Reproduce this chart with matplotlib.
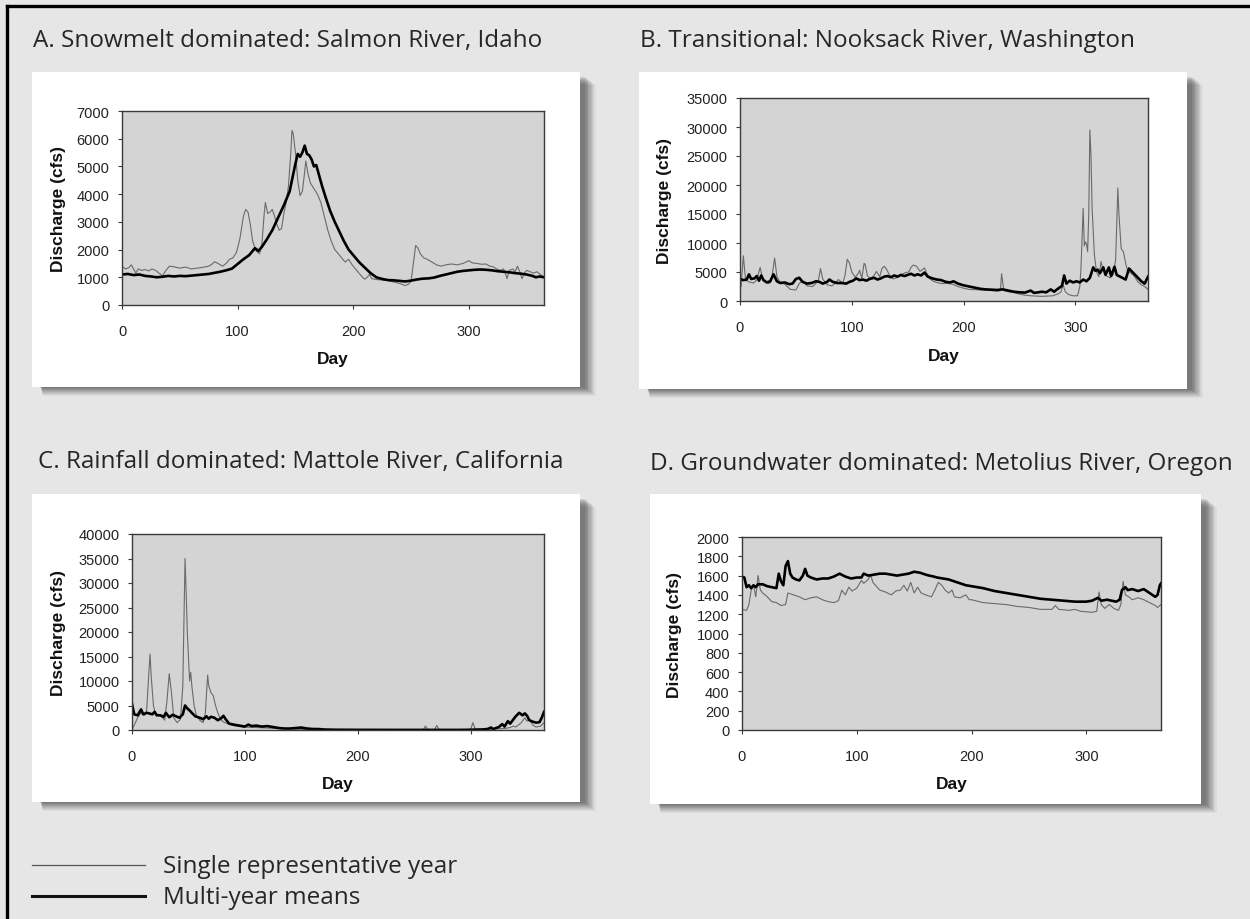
import numpy as np
import matplotlib
matplotlib.use("Agg")
import matplotlib.pyplot as plt
from matplotlib.patches import Rectangle
from matplotlib.lines import Line2D

plt.rcParams['font.family'] = ['Liberation Sans', 'DejaVu Sans']

W, H = 1250, 920

# ---- data: (day, discharge cfs) ----
# A. Salmon River
a_single_day = [0, 3, 6, 8, 10, 12, 14, 17, 20, 23, 26, 29, 32, 35, 38, 41, 45, 50, 55, 60, 65, 70, 75, 78, 80, 83,
                87, 90, 93, 96, 99, 102, 105, 107, 109, 111, 113, 116, 119, 121, 123, 124, 126, 128, 130, 132, 134,
                136, 138, 140, 142, 144, 146, 147, 148, 150, 152, 154, 156, 158, 159, 161, 163, 166, 169, 172, 175,
                178, 181, 184, 187, 190, 193, 196, 199, 202, 205, 208, 210, 212, 214, 216, 220, 225, 230, 235, 240,
                245, 248, 250, 252, 254, 256, 258, 261, 264, 268, 272, 276, 280, 285, 290, 295, 300, 303, 307, 311,
                315, 318, 321, 324, 327, 330, 332, 333, 335, 338, 340, 342, 344, 346, 348, 350, 353, 356, 359, 362, 365]
a_single_q = [1400, 1300, 1350, 1450, 1300, 1150, 1300, 1250, 1280, 1230, 1300, 1250, 1150, 1050, 1250, 1400, 1380,
              1330, 1370, 1300, 1330, 1360, 1400, 1480, 1560, 1500, 1400, 1500, 1650, 1700, 1900, 2400, 3200, 3450,
              3350, 2900, 2300, 1950, 1850, 2200, 3300, 3700, 3300, 3350, 3450, 3200, 2900, 2700, 2750, 3300, 3700,
              4300, 5500, 6300, 6200, 5500, 4500, 3950, 4100, 4800, 5200, 4700, 4400, 4200, 4000, 3700, 3200, 2700,
              2300, 2000, 1850, 1700, 1550, 1650, 1450, 1300, 1150, 1000, 930, 1000, 1100, 950, 920, 900, 880, 830,
              780, 700, 760, 850, 1500, 2150, 2050, 1850, 1700, 1650, 1550, 1450, 1400, 1450, 1480, 1450, 1500, 1600,
              1520, 1500, 1470, 1480, 1400, 1380, 1300, 1250, 1300, 1100, 950, 1250, 1300, 1200, 1400, 1200, 950,
              1150, 1250, 1200, 1150, 1200, 1100, 1000]
a_mean_day = [0, 5, 10, 15, 20, 25, 30, 35, 40, 45, 50, 55, 60, 65, 70, 75, 80, 85, 90, 95, 100, 105, 110, 113, 115,
              118, 121, 125, 130, 135, 140, 145, 148, 150, 152, 154, 156, 158, 160, 162, 164, 166, 168, 170, 173, 176,
              180, 184, 188, 192, 196, 200, 205, 210, 215, 220, 225, 230, 235, 240, 245, 250, 255, 260, 265, 270, 275,
              280, 285, 290, 295, 300, 305, 310, 315, 320, 325, 330, 335, 340, 345, 350, 355, 358, 361, 365]
a_mean_q = [1100, 1120, 1080, 1100, 1050, 1030, 1000, 1020, 1050, 1030, 1050, 1040, 1060, 1080, 1100, 1120, 1160,
            1200, 1250, 1310, 1480, 1650, 1800, 1950, 2050, 1950, 2100, 2350, 2700, 3150, 3600, 4100, 4700, 5100,
            5450, 5350, 5500, 5750, 5450, 5400, 5250, 5000, 5050, 4750, 4300, 3900, 3400, 3000, 2650, 2300, 2000,
            1800, 1550, 1350, 1150, 1000, 940, 900, 890, 870, 850, 880, 920, 950, 960, 990, 1050, 1100, 1150, 1200,
            1230, 1250, 1270, 1280, 1270, 1250, 1220, 1200, 1180, 1150, 1130, 1100, 1050, 1000, 1030, 1000]

# B. Nooksack River
b_single_day = [0, 1, 3, 5, 8, 12, 15, 18, 20, 23, 26, 28, 31, 33, 36, 40, 45, 50, 53, 56, 60, 65, 70, 72, 74, 78,
                82, 85, 88, 92, 94, 96, 98, 100, 103, 106, 107, 109, 111, 112, 114, 117, 120, 122, 125, 127, 129,
                131, 134, 137, 140, 144, 148, 151, 153, 155, 158, 161, 163, 165, 167, 170, 173, 176, 180, 185, 190,
                195, 200, 205, 210, 215, 220, 225, 230, 233, 234, 236, 240, 245, 250, 255, 260, 265, 270, 275, 280,
                284, 287, 289, 291, 294, 298, 302, 304, 305, 307, 308, 309, 310, 311, 312, 313, 314, 315, 317, 319,
                321, 323, 325, 328, 331, 334, 336, 337, 338, 339, 341, 343, 345, 347, 350, 353, 356, 359, 362, 365]
b_single_q = [3500, 2500, 7800, 3600, 3300, 3100, 3600, 5800, 4000, 3200, 3000, 3400, 7400, 4200, 3200, 2900, 2000,
              1900, 3000, 3500, 2600, 2500, 3400, 5600, 3800, 2800, 2600, 3000, 3700, 3100, 4500, 7200, 6500, 5000,
              4100, 4800, 5300, 3900, 6500, 6300, 4300, 3900, 4400, 5100, 4200, 5600, 6000, 5500, 4400, 3800, 4000,
              4500, 4900, 5000, 5800, 6200, 6000, 5100, 5400, 5700, 4800, 3800, 3400, 3200, 3000, 3050, 2900, 2500,
              2200, 2000, 1950, 1900, 1850, 1800, 1700, 1800, 4700, 1800, 1600, 1450, 1200, 1000, 900, 850, 800,
              850, 900, 1200, 1500, 2800, 1600, 1100, 900, 900, 2500, 5500, 16000, 9500, 10200, 9800, 8500, 15000,
              29500, 25000, 16000, 8000, 5000, 4200, 6800, 5200, 4300, 4000, 4600, 7000, 13000, 19500, 15000, 9000,
              8500, 6500, 5000, 4800, 4200, 3300, 2800, 2500, 2000]
b_mean_day = [0, 3, 6, 8, 10, 13, 15, 17, 19, 21, 24, 27, 30, 33, 36, 40, 44, 47, 50, 53, 56, 60, 64, 68, 71, 74,
              78, 80, 83, 87, 91, 95, 98, 101, 104, 107, 110, 113, 116, 120, 123, 126, 129, 132, 135, 138, 141, 144,
              147, 150, 153, 156, 159, 162, 165, 168, 172, 176, 180, 184, 188, 191, 195, 200, 205, 210, 215, 220,
              225, 230, 235, 240, 245, 250, 255, 260, 263, 267, 270, 274, 278, 281, 285, 288, 290, 292, 295, 298,
              301, 304, 307, 310, 313, 316, 318, 320, 322, 325, 327, 330, 332, 335, 337, 340, 343, 345, 348, 350,
              353, 356, 359, 362, 365]
b_mean_q = [3800, 3600, 3700, 4600, 3800, 3900, 4300, 3500, 4400, 3600, 3200, 3400, 4600, 3400, 3100, 3200, 2900,
            3000, 3800, 4000, 3300, 3000, 3100, 3400, 3300, 3000, 3300, 3700, 3300, 3100, 3100, 3000, 3300, 3500,
            3900, 3600, 3700, 3500, 3800, 4000, 3700, 3900, 4200, 4300, 4100, 4400, 4200, 4500, 4300, 4500, 4700,
            4400, 4600, 4400, 4900, 4200, 3900, 3700, 3600, 3300, 3200, 3400, 3000, 2700, 2500, 2300, 2100, 2000,
            1950, 1900, 2000, 1800, 1600, 1500, 1450, 1800, 1400, 1500, 1600, 1500, 2000, 1600, 2200, 2600, 4400,
            3000, 3500, 3200, 3400, 3200, 3700, 3400, 4000, 5800, 5200, 5400, 4800, 5800, 4500, 5800, 4300, 5900,
            4500, 4200, 3900, 3700, 5600, 5200, 4600, 4000, 3400, 3000, 4200]

# C. Mattole River
c_single_day = [0, 2, 5, 8, 11, 13, 15, 16, 17, 19, 21, 24, 27, 29, 31, 33, 35, 37, 40, 43, 45, 47, 48, 49, 51, 52,
                53, 55, 57, 60, 63, 65, 67, 68, 70, 72, 74, 76, 79, 82, 86, 90, 95, 100, 110, 120, 130, 140, 150,
                160, 180, 200, 220, 240, 258, 260, 262, 268, 270, 272, 280, 290, 300, 302, 304, 310, 320, 330, 335,
                338, 340, 345, 348, 350, 352, 355, 358, 362, 365]
c_single_q = [100, 1000, 2500, 3500, 3000, 4000, 12000, 15500, 11000, 5000, 3000, 3200, 2500, 2000, 6000, 11500,
              7500, 2500, 1500, 2200, 9000, 35000, 28000, 20000, 10000, 11800, 9000, 5000, 3000, 2000, 1500, 3500,
              11200, 9000, 7600, 7000, 5000, 3500, 2000, 1500, 1200, 900, 700, 600, 500, 400, 300, 200, 150, 100,
              80, 60, 50, 40, 40, 800, 100, 80, 900, 100, 80, 80, 100, 1500, 200, 150, 200, 300, 500, 800, 600,
              1500, 2500, 1800, 2200, 1000, 600, 800, 1500]
c_mean_day = [0, 2, 5, 8, 10, 13, 15, 18, 20, 22, 25, 28, 30, 33, 36, 39, 42, 45, 47, 49, 51, 53, 56, 60, 63, 66,
              68, 70, 73, 76, 79, 81, 83, 86, 90, 95, 100, 103, 106, 110, 115, 120, 125, 130, 135, 140, 145, 150,
              155, 160, 165, 170, 180, 200, 230, 260, 290, 300, 310, 315, 318, 320, 325, 328, 330, 333, 335, 338,
              340, 343, 346, 348, 350, 352, 355, 358, 361, 363, 365]
c_mean_q = [5300, 3200, 3000, 4200, 3200, 3500, 3400, 3200, 3700, 3000, 3000, 2700, 3500, 2600, 3100, 2800, 2500,
            3200, 5000, 4400, 4000, 3500, 2800, 2500, 2200, 2800, 2300, 2700, 2500, 2000, 2400, 2900, 2200, 1300,
            1100, 900, 700, 1100, 800, 900, 700, 800, 600, 400, 300, 300, 400, 500, 300, 200, 200, 100, 50, 30, 20,
            20, 20, 50, 100, 200, 500, 200, 600, 1200, 700, 1800, 1300, 2200, 2800, 3500, 3000, 3400, 2900, 2000,
            1700, 1500, 1600, 2500, 3700]

# D. Metolius River
d_single_day = [0, 4, 6, 8, 10, 12, 14, 16, 18, 22, 26, 30, 34, 38, 40, 45, 50, 55, 60, 65, 70, 75, 80, 84, 87, 90,
                93, 96, 100, 104, 106, 110, 112, 114, 117, 120, 125, 130, 134, 138, 141, 144, 147, 150, 153, 156,
                160, 165, 168, 171, 174, 177, 180, 183, 185, 190, 195, 198, 200, 210, 220, 230, 240, 250, 260, 270,
                273, 276, 285, 290, 295, 305, 309, 311, 313, 316, 320, 324, 328, 330, 332, 334, 337, 340, 345, 350,
                355, 360, 362, 365]
d_single_q = [1250, 1240, 1300, 1450, 1500, 1380, 1600, 1450, 1420, 1380, 1330, 1320, 1290, 1300, 1420, 1400, 1380,
              1350, 1370, 1380, 1350, 1330, 1320, 1340, 1450, 1400, 1480, 1440, 1470, 1550, 1520, 1560, 1610, 1530,
              1490, 1450, 1430, 1400, 1440, 1450, 1500, 1440, 1530, 1420, 1480, 1420, 1400, 1380, 1450, 1530, 1500,
              1450, 1420, 1450, 1380, 1370, 1400, 1350, 1350, 1320, 1310, 1300, 1280, 1270, 1250, 1250, 1290, 1250,
              1240, 1250, 1230, 1220, 1230, 1430, 1300, 1260, 1300, 1260, 1240, 1300, 1540, 1400, 1380, 1350, 1370,
              1350, 1320, 1290, 1270, 1300]
d_mean_day = [0, 2, 4, 6, 8, 10, 12, 14, 18, 22, 26, 30, 32, 34, 36, 38, 40, 42, 44, 47, 50, 53, 55, 57, 60, 65, 70,
              75, 80, 85, 90, 95, 100, 104, 106, 110, 115, 120, 125, 130, 135, 140, 145, 150, 155, 160, 163, 167,
              170, 175, 180, 185, 190, 195, 200, 210, 220, 230, 240, 250, 260, 270, 280, 290, 300, 305, 310, 313,
              318, 322, 326, 329, 331, 334, 336, 340, 345, 350, 355, 360, 362, 364, 365]
d_mean_q = [1590, 1580, 1480, 1500, 1470, 1500, 1480, 1510, 1510, 1490, 1480, 1470, 1620, 1540, 1500, 1700, 1750,
            1620, 1580, 1560, 1550, 1600, 1670, 1600, 1580, 1560, 1570, 1570, 1590, 1620, 1590, 1570, 1580, 1580,
            1620, 1600, 1610, 1620, 1620, 1610, 1600, 1610, 1620, 1640, 1630, 1610, 1600, 1590, 1580, 1570, 1560,
            1540, 1520, 1500, 1490, 1470, 1440, 1420, 1400, 1380, 1360, 1350, 1340, 1330, 1330, 1340, 1370, 1340,
            1350, 1340, 1330, 1350, 1450, 1480, 1450, 1460, 1440, 1460, 1420, 1380, 1400, 1500, 1520]

titles = ["A. Snowmelt dominated: Salmon River, Idaho",
          "B. Transitional: Nooksack River, Washington",
          "C. Rainfall dominated: Mattole River, California",
          "D. Groundwater dominated: Metolius River, Oregon"]
y_max = [7000, 35000, 40000, 2000]
y_step = [1000, 5000, 5000, 200]
single_days = [a_single_day, b_single_day, c_single_day, d_single_day]
single_qs = [a_single_q, b_single_q, c_single_q, d_single_q]
mean_days = [a_mean_day, b_mean_day, c_mean_day, d_mean_day]
mean_qs = [a_mean_q, b_mean_q, c_mean_q, d_mean_q]

# layout in pixels: white box, plot area, title (x, baseline), ylabel centre x
boxes = [(32, 73, 580, 388), (639, 73, 1187, 390), (32, 495, 580, 803), (650, 495, 1201, 805)]
areas = [(122, 112, 544, 306), (740, 99, 1148, 302), (132, 535, 544, 731), (742, 538, 1161, 731)]
title_pos = [(33, 47), (640, 47), (38, 468), (650, 470)]
title_w = [510, 492, 525, 584]
ylab_x = [58, 664, 58, 675]


def fx(x):
    return x / W


def fy(y):
    return 1 - y / H


fig = plt.figure(figsize=(W / 100, H / 100), dpi=100)
fig.patch.set_facecolor('#e6e6e6')

# outer frame (left and top)
fig.add_artist(Line2D([fx(7), fx(7)], [0, fy(7)], color='black', lw=2.4, transform=fig.transFigure))
fig.add_artist(Line2D([fx(7), 1], [fy(7), fy(7)], color='black', lw=2.4, transform=fig.transFigure))

for i in range(4):
    x0, y0, x1, y1 = boxes[i]
    # soft shadow
    for k, a in zip(range(9, 0, -1), [0.05, 0.06, 0.07, 0.08, 0.09, 0.1, 0.11, 0.12, 0.13]):
        fig.add_artist(Rectangle((fx(x0 + 8 + k * 0.3), fy(y1 + k)), fx(x1 - x0 + k - 4), (y1 - y0 - 4) / H,
                                 transform=fig.transFigure, facecolor='#303030', edgecolor='none',
                                 alpha=a, zorder=-3))
    fig.add_artist(Rectangle((fx(x0), fy(y1)), fx(x1 - x0), (y1 - y0) / H, transform=fig.transFigure,
                             facecolor='white', edgecolor='none', zorder=-2))

    ax0, ay0, ax1, ay1 = areas[i]
    ax = fig.add_axes([fx(ax0), fy(ay1), fx(ax1 - ax0), (ay1 - ay0) / H])
    ax.set_facecolor('#d4d4d4')
    ax.plot(single_days[i], single_qs[i], color='#6a6a6a', lw=0.8)
    ax.plot(mean_days[i], mean_qs[i], color='black', lw=1.9)
    ax.set_xlim(0, 365)
    ax.set_ylim(0, y_max[i])
    ax.set_xticks([0, 100, 200, 300])
    ax.set_yticks(np.arange(0, y_max[i] + 1, y_step[i]))
    for s in ax.spines.values():
        s.set_color('#3a3a3a')
        s.set_linewidth(1.0)
    ax.tick_params(axis='both', direction='out', length=3, width=0.8, color='#3a3a3a',
                   labelsize=10.5, labelcolor='#222222')
    ax.tick_params(axis='x', pad=11)
    ax.tick_params(axis='y', pad=6)

    w_ax = ax1 - ax0
    h_ax = ay1 - ay0
    ax.set_xlabel('Day', fontsize=12.5, fontweight='bold', color='#111111')
    ax.xaxis.label.set_va('center')
    ax.xaxis.set_label_coords(0.5, -54 / h_ax)
    ax.set_ylabel('Discharge (cfs)', fontsize=12.5, fontweight='bold', color='#111111')
    ax.yaxis.label.set_va('center')
    ax.yaxis.set_label_coords(-(ax0 - ylab_x[i]) / w_ax, 0.5)

# titles, sized to the reference widths
title_texts = []
for i in range(4):
    tx, ty = title_pos[i]
    title_texts.append(fig.text(fx(tx), fy(ty), titles[i], fontsize=16, family='Open Sans',
                                color='#262626', ha='left', va='baseline'))

# legend
leg_labels = ["Single representative year", "Multi-year means"]
leg_y = [866, 897]
leg_lw = [0.9, 2.2]
leg_col = ['#555555', '#111111']
leg_w = [292, 199]
leg_texts = []
for k in range(2):
    fig.add_artist(Line2D([fx(32), fx(145)], [fy(leg_y[k]), fy(leg_y[k])], color=leg_col[k],
                          lw=leg_lw[k], transform=fig.transFigure))
    leg_texts.append(fig.text(fx(163), fy(leg_y[k] + 7), leg_labels[k], fontsize=16, family='Open Sans',
                              color='#262626', ha='left', va='baseline'))

fig.canvas.draw()
r = fig.canvas.get_renderer()
for group, targets in [(title_texts, title_w), (leg_texts, leg_w)]:
    ratios = [tw / t.get_window_extent(r).width for t, tw in zip(group, targets)]
    s = float(np.mean(ratios))
    for t in group:
        t.set_fontsize(16 * s)

fig.savefig('out.png', dpi=100, facecolor=fig.get_facecolor())
